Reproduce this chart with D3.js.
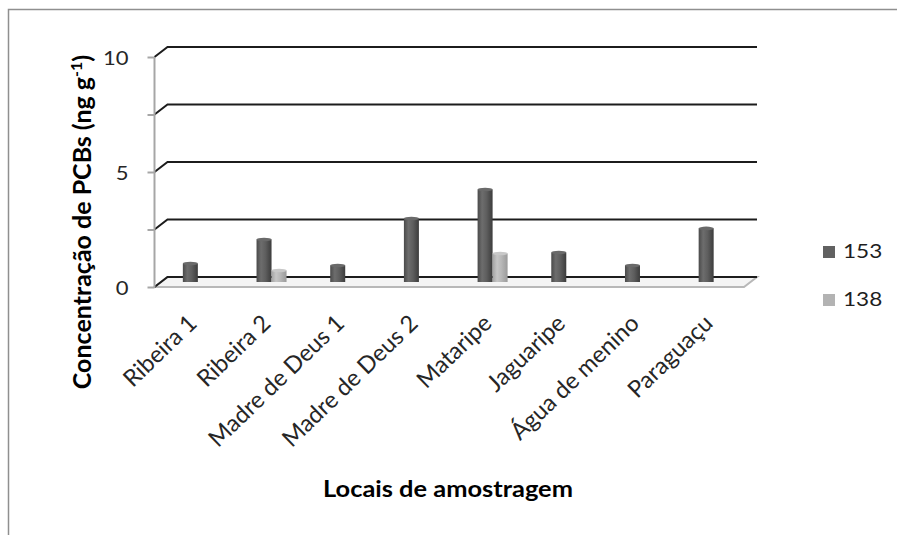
<!DOCTYPE html>
<html>
<head>
<meta charset="utf-8">
<script src="https://cdn.jsdelivr.net/npm/d3@7"></script>
<style>
  html, body { margin: 0; padding: 0; background: #fff; }
  svg { display: block; }
  text { font-family: Lato, "Open Sans", sans-serif; }
</style>
</head>
<body>
<svg id="chart" width="897" height="535"></svg>
<script>
// ---- data ----
const categories = ["Ribeira 1", "Ribeira 2", "Madre  de Deus 1", "Madre de Deus 2", "Mataripe", "Jaguaripe", "Água de menino", "Paraguaçu"];
const seriesNames = ["153", "138"];
const values153 = [0.8, 1.85, 0.72, 2.76, 4.02, 1.28, 0.72, 2.33];
const values138 = [0, 0.5, 0, 0, 1.24, 0, 0, 0];
const yTickValues = [0, 2.5, 5, 7.5, 10];
const yTickLabels = ["0", "", "5", "", "10"];
const yTitle = "Concentração de PCBs (ng g";
const yTitleSup = "-1";
const xTitle = "Locais de amostragem";

// ---- layout ----
const W = 897, H = 535;
const SX = 1.13; // horizontal stretch of the reference's text
const front = { left: 154.5, right: 744, bottom: 287, top: 57 };
const depth = { dx: 13, dy: -10 };

const svg = d3.select("#chart");

const x = d3.scaleBand().domain(categories).range([front.left, front.right]);
const y = d3.scaleLinear().domain([0, 10]).range([front.bottom, front.top]);
const xs = d3.scaleBand().domain(seriesNames).range([0, 30]);

const defs = svg.append("defs");
function grad(id, stops) {
  const g = defs.append("linearGradient").attr("id", id).attr("x1", "0%").attr("x2", "100%").attr("y1", "0%").attr("y2", "0%");
  stops.forEach(s => g.append("stop").attr("offset", s[0]).attr("stop-color", s[1]));
}
grad("g153", [["0%", "#4a4a4a"], ["30%", "#6d6d6d"], ["60%", "#5e5e5e"], ["100%", "#3c3c3c"]]);
grad("g138", [["0%", "#a3a3a3"], ["30%", "#c6c6c6"], ["60%", "#b6b6b6"], ["100%", "#9a9a9a"]]);
const fills = { "153": "url(#g153)", "138": "url(#g138)" };
const capFill = { "153": "#6a6a6a", "138": "#c8c8c8" };
const legendFill = { "153": "#616161", "138": "#b3b3b3" };

// outer border (left and top only, as in the reference)
svg.append("path")
  .attr("d", `M8.5,${H} L8.5,9.5 L${W},9.5`)
  .attr("fill", "none").attr("stroke", "#8f8f8f").attr("stroke-width", 1.5);

// floor
const fl = front.left, fr = front.right, fb = front.bottom;
svg.append("path")
  .attr("d", `M${fl},${fb} L${fr},${fb} L${fr + depth.dx},${fb + depth.dy} L${fl + depth.dx},${fb + depth.dy} Z`)
  .attr("fill", "#f4f4f4").attr("stroke", "#b8b8b8").attr("stroke-width", 2);

// back wall gridlines + side diagonals
const grid = svg.append("g");
yTickValues.forEach(v => {
  const yf = y(v), yb = y(v) + depth.dy;
  grid.append("path")
    .attr("d", `M${fl},${yf} L${fl + depth.dx},${yb} L${fr + depth.dx},${yb}`)
    .attr("fill", "none").attr("stroke", "#1c1c1c").attr("stroke-width", 2);
});

// vertical axis with ticks
const axis = d3.axisLeft(y).tickValues(yTickValues).tickSize(7).tickPadding(0).tickFormat(() => "");
const ag = svg.append("g").attr("transform", `translate(${fl},0)`).call(axis);
ag.select(".domain").attr("stroke", "#a6a6a6").attr("stroke-width", 2).attr("d", `M0,${y(10)}V${y(0)}`);
ag.selectAll(".tick line").attr("stroke", "#a6a6a6").attr("stroke-width", 2);
ag.selectAll(".tick").each(function(d, i) {
  const lbl = yTickLabels[i];
  if (!lbl) return;
  d3.select(this).append("text")
    .attr("transform", `translate(-26,7) scale(${SX},1)`)
    .attr("text-anchor", "end")
    .attr("fill", "#262626")
    .attr("font-size", 19.5)
    .text(lbl);
});

// bars (drawn at mid-depth)
const bx = d => x(d.cat) + x.bandwidth() / 2 + depth.dx / 2 - 15 + xs(d.s);
const barData = [];
categories.forEach((c, i) => {
  barData.push({ cat: c, s: "153", v: values153[i] });
  barData.push({ cat: c, s: "138", v: values138[i] });
});
const bars = svg.append("g");
barData.filter(d => d.v > 0).forEach(d => {
  const x0 = bx(d), w = xs.bandwidth();
  const yTop = y(d.v) + depth.dy / 2, yBot = y(0) + depth.dy / 2;
  bars.append("rect").attr("x", x0).attr("y", yTop).attr("width", w).attr("height", yBot - yTop)
    .attr("fill", fills[d.s]);
  bars.append("ellipse").attr("cx", x0 + w / 2).attr("cy", yTop).attr("rx", w / 2).attr("ry", 1.8)
    .attr("fill", capFill[d.s]);
});

// category labels
svg.append("g").selectAll("text").data(categories).join("text")
  .attr("transform", d => `translate(${x(d) + x.bandwidth() / 2 + 7},${fb + 38}) rotate(-44)`)
  .attr("text-anchor", "end")
  .attr("fill", "#262626")
  .attr("font-size", 23.5)
  .text(d => d);

// axis titles
const yt = svg.append("text")
  .attr("transform", `translate(91,222) rotate(-90)`)
  .attr("text-anchor", "middle")
  .attr("font-weight", "bold")
  .attr("font-size", 25)
  .attr("fill", "#000");
yt.append("tspan").text(yTitle);
yt.append("tspan").attr("baseline-shift", "super").attr("font-size", 16).text(yTitleSup);
yt.append("tspan").text(")");

svg.append("text")
  .attr("transform", `translate(448,497) scale(${SX},1)`)
  .attr("text-anchor", "middle")
  .attr("font-weight", "bold")
  .attr("font-size", 22.5)
  .attr("fill", "#000")
  .text(xTitle);

// legend
const lg = svg.append("g");
seriesNames.forEach((s, i) => {
  const ly = 246 + i * 48;
  lg.append("rect").attr("x", 823).attr("y", ly).attr("width", 12).attr("height", 12).attr("fill", legendFill[s]);
  lg.append("text").attr("transform", `translate(843,${ly + 12}) scale(${SX},1)`)
    .attr("font-size", 20).attr("fill", "#1e1e1e").text(s);
});
</script>
</body>
</html>
